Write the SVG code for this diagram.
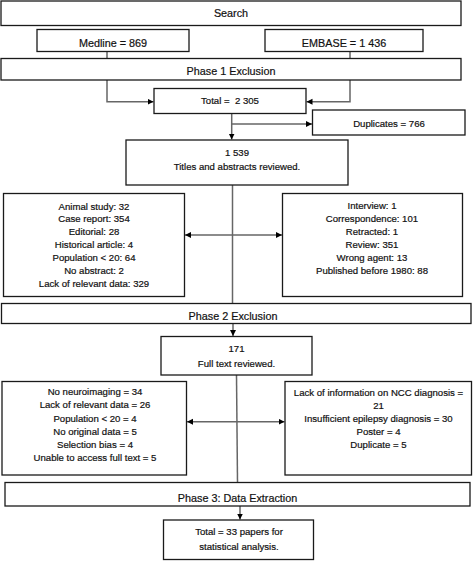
<svg xmlns="http://www.w3.org/2000/svg" width="473" height="561" viewBox="0 0 473 561">
<defs>
<style>
.box{fill:#fff;stroke:#1a1a1a;stroke-width:1.3}
.c{fill:none;stroke:#666;stroke-width:1.5}
text{font-family:"Liberation Sans",Arial,sans-serif;fill:#111;stroke:#111;stroke-width:0.2;text-anchor:middle}
.h{font-size:10.8px}
.b{font-size:9.6px}
</style>
<marker id="ah" markerUnits="userSpaceOnUse" markerWidth="7" markerHeight="7" refX="6" refY="3" orient="auto-start-reverse">
<path d="M0,0 L6,3 L0,6 z" fill="#000"/>
</marker>
</defs>
<rect width="473" height="561" fill="#fff"/>
<g id="connectors">
<path class="c" d="M107,51.7 V101.7 H153.5" marker-end="url(#ah)"/>
<path class="c" d="M350,51.7 V101.7 H306.5" marker-end="url(#ah)"/>
<path class="c" d="M231.7,113.3 V139.5" marker-end="url(#ah)"/>
<path class="c" d="M231.7,124 H312" marker-end="url(#ah)"/>
<path class="c" d="M232.5,185 V303.5"/>
<path class="c" d="M185,235 H282" marker-start="url(#ah)" marker-end="url(#ah)"/>
<path class="c" d="M233,323.5 V336" marker-end="url(#ah)"/>
<path class="c" d="M236.5,375 L237.5,482.5"/>
<path class="c" d="M187,421.7 H284.5" marker-start="url(#ah)" marker-end="url(#ah)"/>
<path class="c" d="M240,506 V519.5" marker-end="url(#ah)"/>
</g>
<g id="search"><rect class="box" x="1" y="1" width="460" height="24.5"/><text class="h" x="231" y="16.5">Search</text></g>
<g id="medline"><rect class="box" x="37" y="29.5" width="152" height="22"/><text class="h" x="113" y="46.5">Medline = 869</text></g>
<g id="embase"><rect class="box" x="265" y="29.5" width="158" height="22"/><text class="h" x="344" y="46.5">EMBASE = 1 436</text></g>
<g id="phase1"><rect class="box" x="1" y="58.5" width="460" height="21.5"/><text class="h" x="231" y="74.8">Phase 1 Exclusion</text></g>
<g id="total"><rect class="box" x="154" y="88.5" width="152" height="25"/><text class="b" x="230" y="104" xml:space="preserve">Total =  2 305</text></g>
<g id="duplicates"><rect class="box" x="312.5" y="110" width="152.5" height="25"/><text class="b" x="389" y="126.5">Duplicates = 766</text></g>
<g id="reviewed1"><rect class="box" x="126" y="140" width="222" height="45"/><text class="b" x="237" y="156.3">1 539</text><text class="b" x="237" y="169.6">Titles and abstracts reviewed.</text></g>
<g id="excl1-left"><rect class="box" x="3.5" y="193.5" width="181" height="103"/>
<text class="b"><tspan x="94" y="209.5">Animal study: 32</tspan><tspan x="94" y="222.4">Case report: 354</tspan><tspan x="94" y="235.3">Editorial: 28</tspan><tspan x="94" y="248.2">Historical article: 4</tspan><tspan x="94" y="261.1">Population &lt; 20: 64</tspan><tspan x="94" y="274">No abstract: 2</tspan><tspan x="94" y="286.9">Lack of relevant data: 329</tspan></text></g>
<g id="excl1-right"><rect class="box" x="282.5" y="193.5" width="180" height="103"/>
<text class="b"><tspan x="372" y="208.8">Interview: 1</tspan><tspan x="372" y="221.8">Correspondence: 101</tspan><tspan x="372" y="234.8">Retracted: 1</tspan><tspan x="372" y="247.8">Review: 351</tspan><tspan x="372" y="260.8">Wrong agent: 13</tspan><tspan x="372" y="273.8">Published before 1980: 88</tspan></text></g>
<g id="phase2"><rect class="box" x="1.5" y="303.5" width="469.5" height="20"/><text class="h" x="233" y="319.6">Phase 2 Exclusion</text></g>
<g id="reviewed2"><rect class="box" x="161" y="336.5" width="151" height="38.5"/><text class="b" x="236.5" y="352">171</text><text class="b" x="236.5" y="367">Full text reviewed.</text></g>
<g id="excl2-left"><rect class="box" x="2" y="381.5" width="184.5" height="93.5"/>
<text class="b"><tspan x="95" y="395.3">No neuroimaging = 34</tspan><tspan x="95" y="408.4">Lack of relevant data = 26</tspan><tspan x="95" y="421.5">Population &lt; 20 = 4</tspan><tspan x="95" y="434.6">No original data = 5</tspan><tspan x="95" y="447.7">Selection bias = 4</tspan><tspan x="95" y="460.8">Unable to access full text = 5</tspan></text></g>
<g id="excl2-right"><rect class="box" x="285" y="381.5" width="186.5" height="93.5"/>
<text class="b"><tspan x="378.5" y="395.8">Lack of information on NCC diagnosis =</tspan><tspan x="378.5" y="408.8">21</tspan><tspan x="378.5" y="421.8">Insufficient epilepsy diagnosis = 30</tspan><tspan x="378.5" y="434.8">Poster = 4</tspan><tspan x="378.5" y="447.8">Duplicate = 5</tspan></text></g>
<g id="phase3"><rect class="box" x="5" y="482.5" width="465" height="23.5"/><text class="h" x="237.5" y="501.5">Phase 3: Data Extraction</text></g>
<g id="final"><rect class="box" x="163.5" y="520" width="150" height="39.5"/><text class="b" x="239" y="535.3">Total = 33 papers for</text><text class="b" x="239" y="550.3">statistical analysis.</text></g>
</svg>
